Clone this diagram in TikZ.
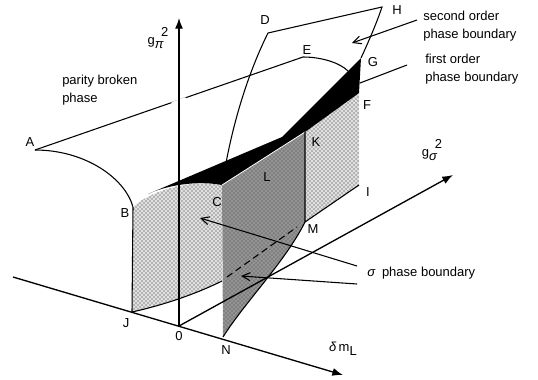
\documentclass[tikz,border=0pt]{standalone}
\usepackage{fontspec}
\setmainfont{Liberation Sans}
\usetikzlibrary{arrows.meta,patterns}
\tikzset{
  lbl/.style={font=\fontsize{9.75}{13.5}\selectfont, inner sep=0pt},
  txt/.style={font=\fontsize{9.75}{13.5}\selectfont, inner sep=0pt, align=left, anchor=west},
  axis/.style={line width=1pt, -{Latex[length=8pt,width=6pt]}},
  edge/.style={line width=0.8pt},
  ptr/.style={line width=0.8pt, -{Straight Barb[length=6pt,width=6pt]}},
  lightbase/.style={fill=black!12},
  lightdot/.style={pattern=crosshatch dots, pattern color=black!85},
  darkdot/.style={fill=black!42},
}
\begin{document}
\begin{tikzpicture}[x=0.75pt,y=-0.75pt]
\useasboundingbox (0,0) rectangle (538,379);
% points
\coordinate (O) at (179,326);
\coordinate (Ytip) at (179,18);
\coordinate (Xs) at (13,277);
\coordinate (Xtip) at (343,375);
\coordinate (Ztip) at (453,175);
\coordinate (A) at (35,150);
\coordinate (E) at (303,57);
\coordinate (Ee) at (348,71);
\coordinate (B) at (133,207);
\coordinate (J) at (132,312);
\coordinate (C) at (222,185);
\coordinate (K) at (305,132);
\coordinate (F) at (359,93);
\coordinate (G) at (361,58);
\coordinate (M) at (305,222);
\coordinate (I) at (359,185);
\coordinate (N) at (223,337);
\coordinate (D) at (268,33);
\coordinate (H) at (382,7);
\coordinate (Db) at (226,163);
\coordinate (bk1) at (148,194);
\coordinate (bk2) at (282,137);
\coordinate (Cb) at (222,281);
\coordinate (Jc) at (227,277);
\coordinate (Md) at (297,227);
% upper sheet outline
\draw[edge] (A) -- (E) .. controls (322,57) and (340,63) .. (Ee);
\draw[edge] (A) .. controls (85,150) and (125,178) .. (B);
\draw[edge] (Db) .. controls (236,110) and (252,65) .. (D) -- (H) .. controls (376,25) and (367,45) .. (G);
% light dotted left face
\fill[lightbase] (B) .. controls (150,191) and (190,179) .. (C) -- (Cb) .. controls (200,292) and (168,304) .. (J) -- cycle;
\fill[lightdot] (B) .. controls (150,191) and (190,179) .. (C) -- (Cb) .. controls (200,292) and (168,304) .. (J) -- cycle;
% right dotted face
\fill[lightbase] (K) -- (F) -- (I) -- (M) -- cycle;
\fill[lightdot] (K) -- (F) -- (I) -- (M) -- cycle;
% dark face
\fill[darkdot] (C) -- (K) -- (M) .. controls (285,262) and (245,302) .. (N) -- cycle;
\fill[pattern=crosshatch dots, pattern color=black!75] (C) -- (K) -- (M) .. controls (285,262) and (245,302) .. (N) -- cycle;
% axes
\draw[axis] (Xs) -- (Xtip);
\draw[axis] (O) -- (Ztip);
\draw[white, line width=3pt] (172,104) -- (186,99);
\draw[axis] (O) -- (Ytip);
% black wedge
\fill[black] (bk1) -- (bk2) -- (G) -- (F) -- (K) -- (C) .. controls (195,180) and (165,186) .. cycle;
\draw[white, line width=0.6pt] (C) -- (K);
% edges
\draw[edge] (B) -- (J);
\draw[edge] (J) .. controls (168,304) and (200,292) .. (Cb);
\draw[edge, dashed, dash pattern=on 5pt off 3pt] (Jc) -- (Md);
\draw[edge] (K) -- (M) -- (I);
\draw[edge] (M) .. controls (285,262) and (245,302) .. (N);
% pointers
\coordinate (so) at (417,20);
\coordinate (sot) at (352,43);
\draw[ptr] (so) -- (sot);
\coordinate (fo1) at (360,83);
\coordinate (fo2) at (407,65);
\draw[edge] (fo1) -- (fo2);
\coordinate (sg1) at (357,266);
\coordinate (sg1t) at (200,218);
\coordinate (sg2) at (357,284);
\coordinate (sg2t) at (241,276);
\draw[ptr] (sg1) -- (sg1t);
\draw[ptr] (sg2) -- (sg2t);
% texts
\node[txt] (tpb) at (62,90) {parity broken\\phase};
\node[txt] (tso) at (423,26) {second order\\phase boundary};
\node[txt] (tfo) at (425,69) {first order\\phase boundary};
\node[txt] (tsg) at (367,273) {\textit{σ}\enspace phase boundary};
% axis labels
\node[lbl] (gpi) at (158,38) {g\raisebox{-0.55ex}{\textit{π}}\kern-0.2em\raisebox{1.1ex}{2}};
\node[lbl] (gsg) at (432,150) {g\raisebox{-0.55ex}{\textit{σ}}\kern-0.2em\raisebox{1.1ex}{2}};
\node[lbl] (dml) at (343,349) {\textit{δ}\,m\raisebox{-0.6ex}{L}};
% point labels
\node[lbl] (lA) at (30,142) {A};
\node[lbl] (lB) at (125,213) {B};
\node[lbl] (lC) at (217,202) {C};
\node[lbl] (lD) at (265,20) {D};
\node[lbl] (lE) at (307,50) {E};
\node[lbl] (lF) at (367,105) {F};
\node[lbl] (lG) at (373,62) {G};
\node[lbl] (lH) at (397,10) {H};
\node[lbl] (lI) at (368,192) {I};
\node[lbl] (lJ) at (126,323) {J};
\node[lbl] (lK) at (316,142) {K};
\node[lbl] (lL) at (267,177) {L};
\node[lbl] (lM) at (313,229) {M};
\node[lbl] (lN) at (226,350) {N};
\node[lbl] (lO) at (179,336) {0};
\end{tikzpicture}
\end{document}
